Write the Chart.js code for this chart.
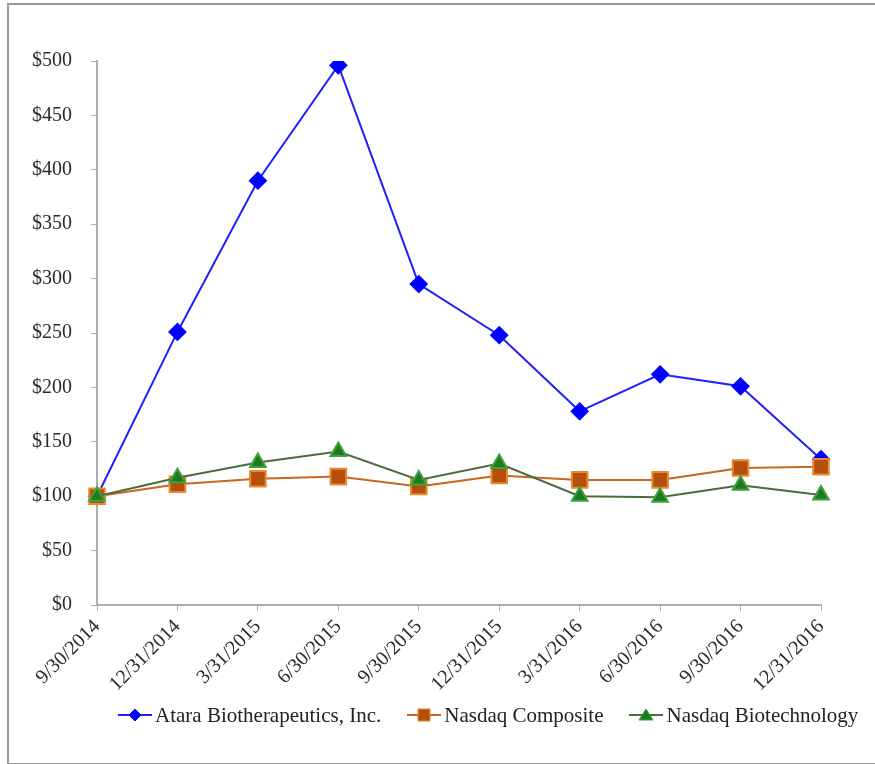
<!DOCTYPE html>
<html>
<head>
<meta charset="utf-8">
<script src="https://cdn.jsdelivr.net/npm/chart.js@4.4.1/dist/chart.umd.min.js"></script>
<style>
  body { margin: 0; background: #fff; }
  #frame { position: absolute; left: 7px; top: 3px; width: 880px; height: 758px;
           border: 2px solid #9a9a9a; border-right: none; }
  #wrap { position: absolute; left: 0; top: 0; width: 875px; height: 764px; }
  #legend { position: absolute; left: 118px; top: 703px; display: flex; gap: 26px;
            font: 21px 'Liberation Serif', 'Times New Roman', serif; color: #222; line-height: 24px; }
  #legend .item { display: flex; align-items: center; white-space: nowrap; }
  #legend canvas { margin-right: 3px; }
</style>
</head>
<body>
<div id="frame"></div>
<div id="wrap"><canvas id="myChart" width="875" height="764"></canvas></div>
<div id="legend"></div>

<script>
const dates = ["9/30/2014", "12/31/2014", "3/31/2015", "6/30/2015", "9/30/2015",
               "12/31/2015", "3/31/2016", "6/30/2016", "9/30/2016", "12/31/2016"];
const atara = [100, 251, 390, 496, 295, 248, 178, 212, 201, 134];
const nasdaqComp = [100, 111, 116, 118, 109, 119, 115, 115, 126, 127];
const nasdaqBio = [100, 117, 131, 141, 115, 130, 100, 99, 110, 101];
const yTicks = [0, 50, 100, 150, 200, 250, 300, 350, 400, 450, 500];

// small legend icons: a line with the marker in the middle
function legendIcon(style, fill, stroke, line) {
  const c = document.createElement("canvas");
  c.width = 34; c.height = 16;
  const ctx = c.getContext("2d");
  ctx.strokeStyle = line; ctx.lineWidth = 2;
  ctx.beginPath(); ctx.moveTo(0, 8); ctx.lineTo(34, 8); ctx.stroke();
  ctx.fillStyle = fill; ctx.strokeStyle = stroke; ctx.lineWidth = 1;
  ctx.beginPath();
  if (style == "diamond") {
    ctx.moveTo(17, 2); ctx.lineTo(23, 8); ctx.lineTo(17, 14); ctx.lineTo(11, 8);
  } else if (style == "square") {
    ctx.rect(11, 2, 12, 12);
  } else {
    ctx.moveTo(17, 2); ctx.lineTo(24, 13); ctx.lineTo(10, 13);
  }
  ctx.closePath(); ctx.fill(); ctx.stroke();
  return c;
}

const serif = "'Liberation Serif', 'Times New Roman', serif";

const myChart = new Chart("myChart", {
  type: "line",
  data: {
    labels: dates,
    datasets: [{
      label: "Atara Biotherapeutics, Inc.",
      data: atara,
      borderColor: "#2020ff",
      backgroundColor: "#0000ff",
      borderWidth: 2,
      pointStyle: "rectRot",
      pointRadius: 8,
      pointBorderColor: "#0000ff",
      pointBackgroundColor: "#0000ff",
      order: 3
    }, {
      label: "Nasdaq Composite",
      data: nasdaqComp,
      borderColor: "#c8661e",
      backgroundColor: "#b5500c",
      borderWidth: 2,
      pointStyle: "rect",
      pointRadius: 11,
      pointBorderColor: "#e8892f",
      pointBackgroundColor: "#b5500c",
      order: 2
    }, {
      label: "Nasdaq Biotechnology",
      data: nasdaqBio,
      borderColor: "#4d6b40",
      backgroundColor: "#1f7a1f",
      borderWidth: 2,
      pointStyle: "triangle",
      pointRadius: 9,
      pointBorderColor: "#3fa03f",
      pointBackgroundColor: "#1f7a1f",
      order: 1
    }]
  },
  options: {
    responsive: false,
    animation: false,
    devicePixelRatio: 1,
    layout: { padding: { left: 0, top: 61, right: 54, bottom: 59 } },
    plugins: {
      tooltip: { enabled: false },
      legend: { display: false }
    },
    scales: {
      x: {
        offset: false,
        grid: { drawOnChartArea: false, drawTicks: true, tickLength: 6, color: "#b0b0b0" },
        border: { display: true, color: "#b0b0b0", width: 2 },
        ticks: {
          minRotation: 45, maxRotation: 45, padding: 4,
          color: "#2a2a2a", font: { family: serif, size: 20 }
        },
        afterFit: (scale) => { scale.height = 100; }
      },
      y: {
        min: 0, max: 500,
        afterBuildTicks: (scale) => { scale.ticks = yTicks.map(v => ({ value: v })); },
        grid: { drawOnChartArea: false, drawTicks: true, tickLength: 6, color: "#b0b0b0" },
        border: { display: true, color: "#b0b0b0", width: 2 },
        ticks: {
          padding: 19,
          color: "#2a2a2a",
          font: { family: serif, size: 20 },
          callback: (v) => "$" + v
        },
        afterFit: (scale) => { scale.width = 97; }
      }
    }
  }
});

// legend below the plot, line + marker then the series name
const legendStyles = ["diamond", "square", "triangle"];
const legend = document.getElementById("legend");
myChart.data.datasets.forEach((ds, i) => {
  const item = document.createElement("div");
  item.className = "item";
  item.appendChild(legendIcon(legendStyles[i], ds.pointBackgroundColor, ds.pointBorderColor, ds.borderColor));
  const txt = document.createElement("span");
  txt.textContent = ds.label;
  item.appendChild(txt);
  legend.appendChild(item);
});
</script>
</body>
</html>
